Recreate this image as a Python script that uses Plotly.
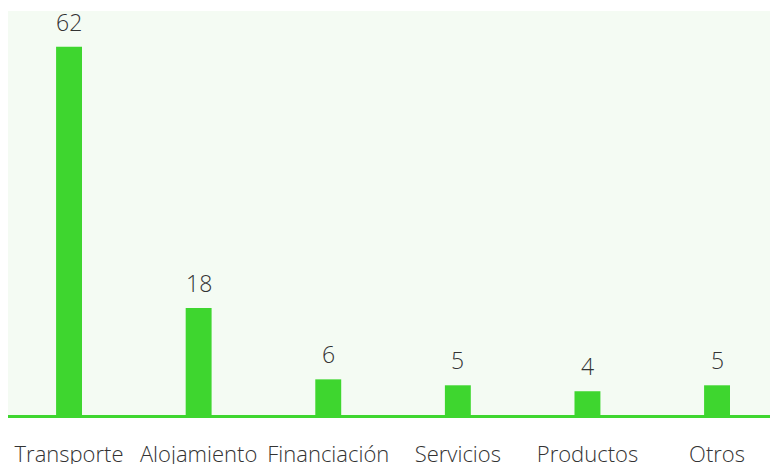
import plotly.graph_objects as go

categories = ["Transporte", "Alojamiento", "Financiación", "Servicios", "Productos", "Otros"]
values = [62, 18, 6, 5, 4, 5]

GREEN = "#3ed62f"
FONT = "Open Sans"

fig = go.Figure(go.Bar(
    x=categories, y=values, width=0.2,
    marker=dict(color=GREEN, line=dict(width=0)),
    hoverinfo="x+y",
))
for c, v in zip(categories, values):
    fig.add_annotation(x=c, y=v, text=str(v), showarrow=False,
                       yanchor="bottom", yshift=7,
                       font=dict(family=FONT, size=23, color="#333333", weight=300))
fig.update_layout(
    width=778, height=464,
    margin=dict(l=0, r=0, t=3, b=57, autoexpand=False),
    paper_bgcolor="white", plot_bgcolor="#f4fbf3",
    showlegend=False,
    font=dict(family=FONT, size=22, color="#333333", weight=300),
    xaxis=dict(range=[-0.471, 5.532], showgrid=False, zeroline=False,
               showline=True, linecolor=GREEN, linewidth=3,
               ticks="", ticklabelstandoff=18,
               tickfont=dict(family=FONT, size=22, color="#333333", weight=300)),
    yaxis=dict(range=[0, 68], showgrid=False, zeroline=False, showticklabels=False,
               showline=False, ticks=""),
)
fig.write_html("out.html")
